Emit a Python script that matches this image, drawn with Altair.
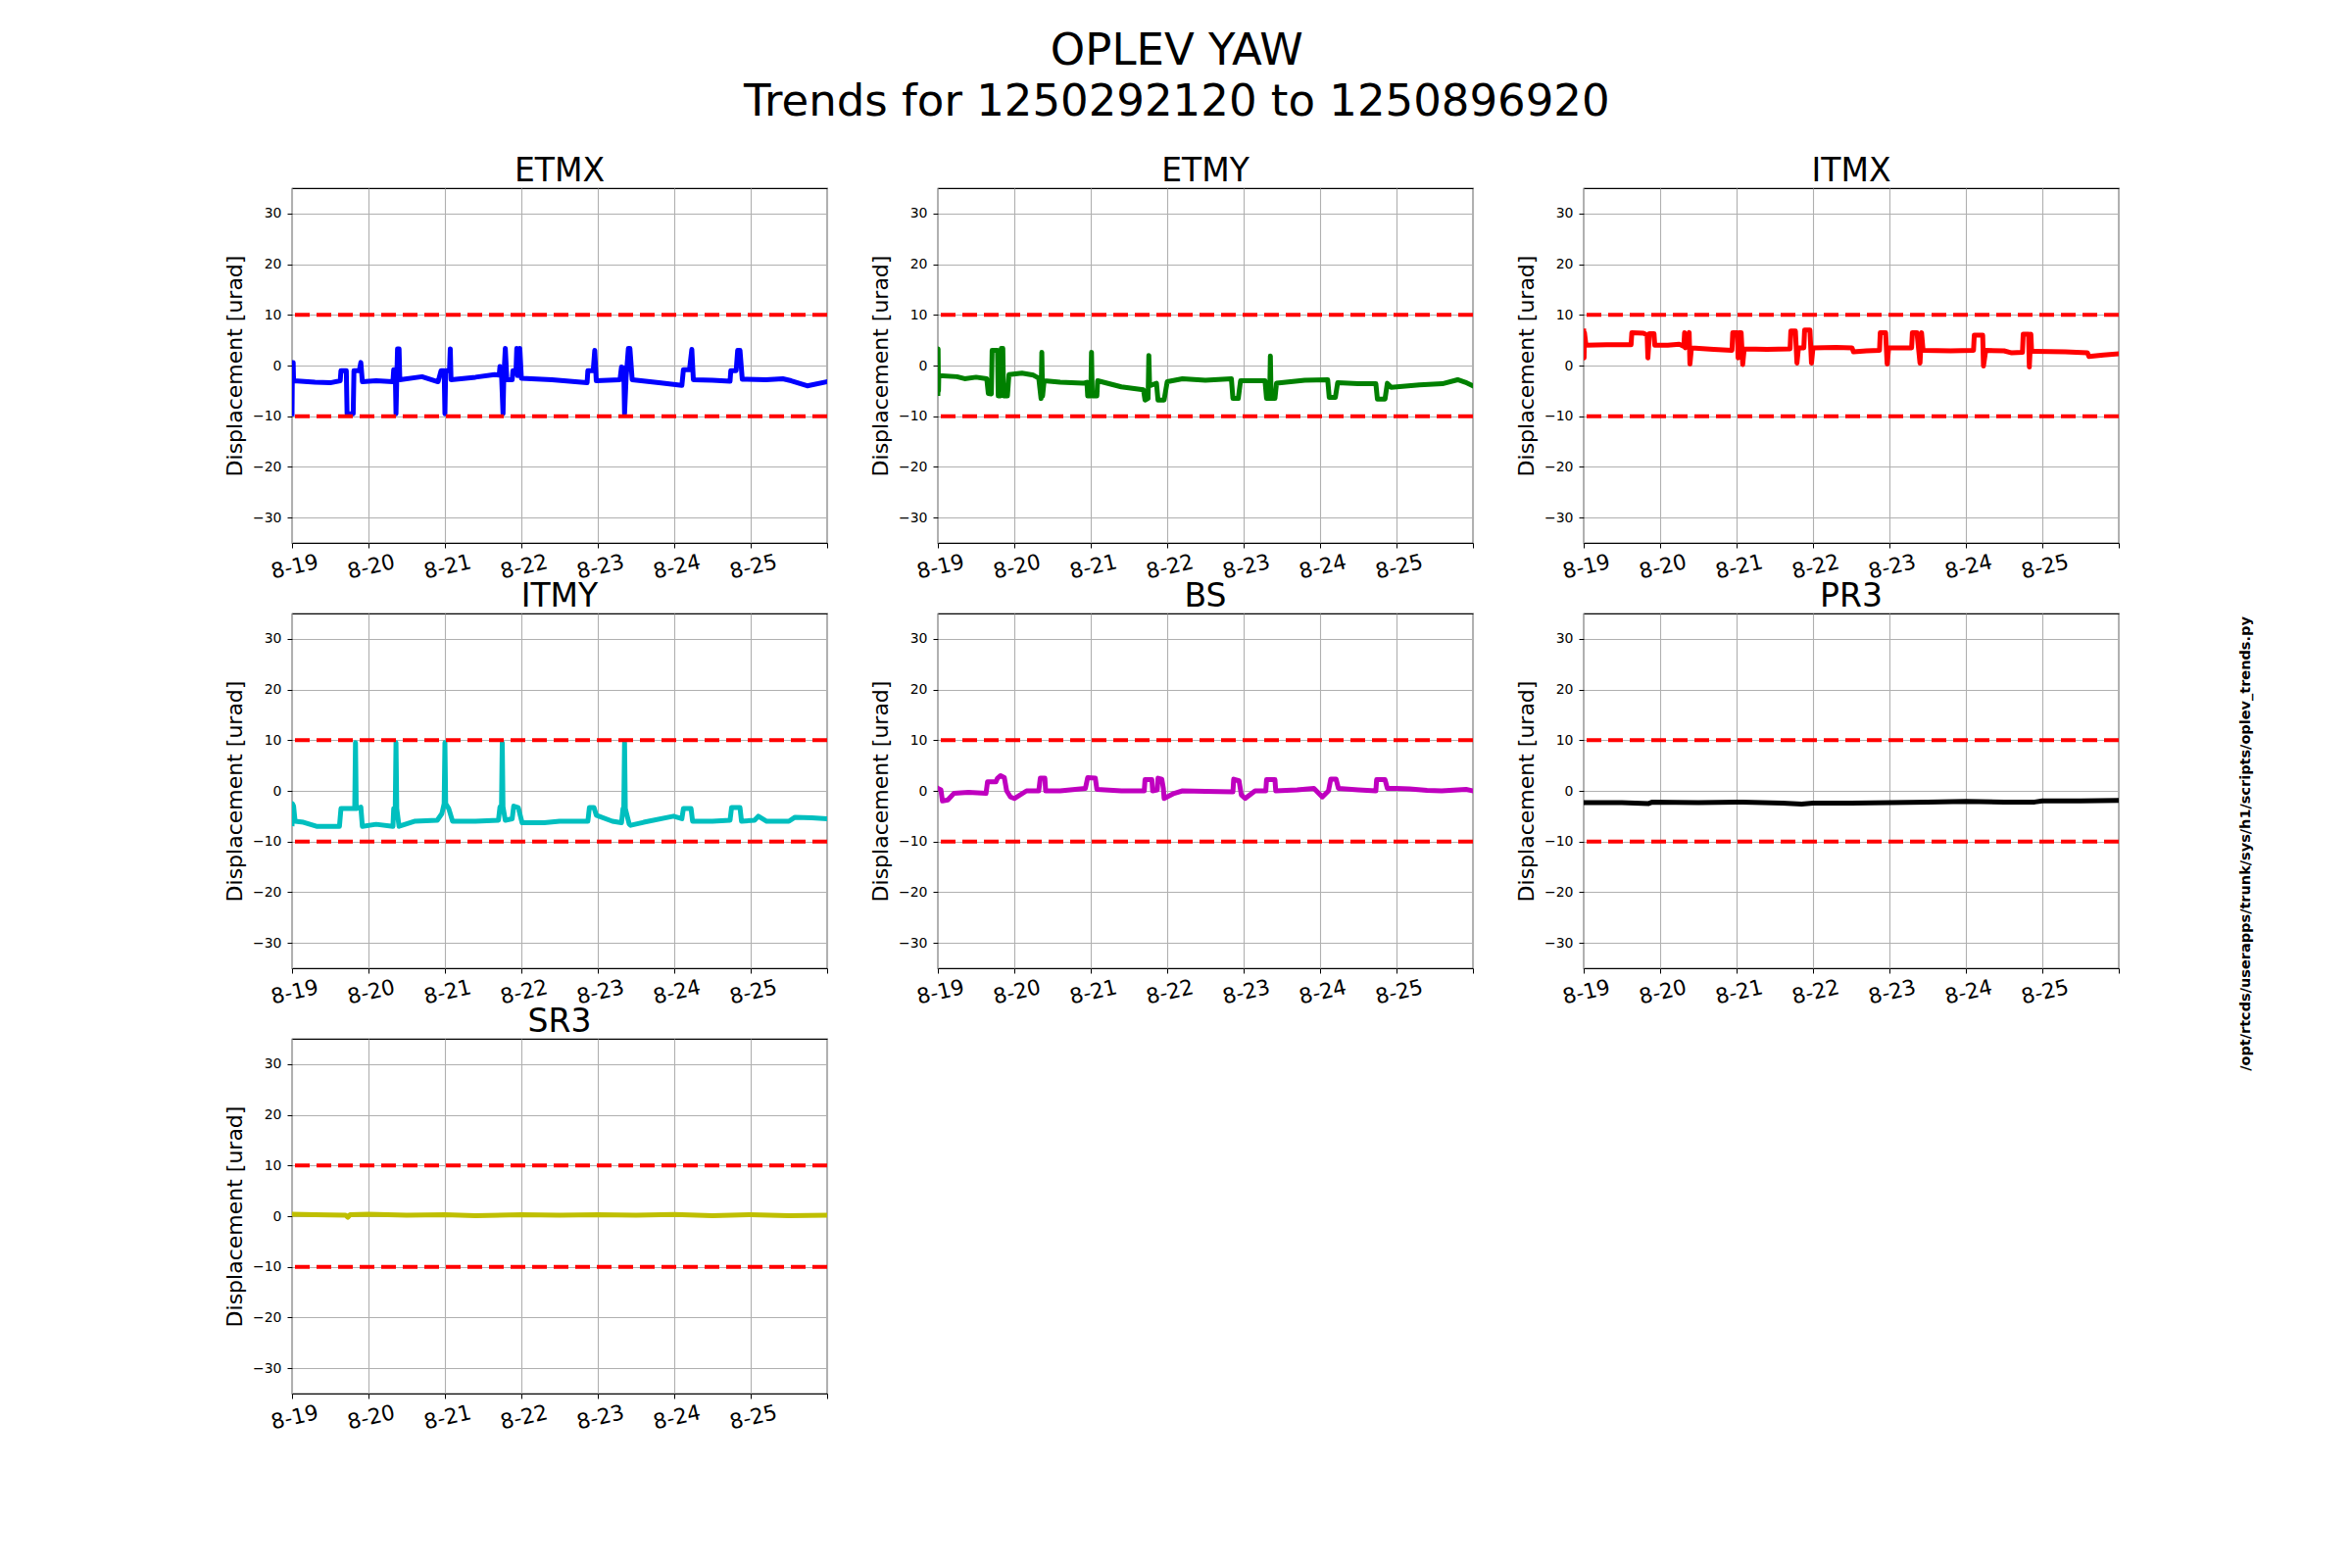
import json
import altair as alt
import pandas as pd

# ---------------- data ----------------
DAYS = [0, 1, 2, 3, 4, 5, 6, 7]
DAY_LABELS = ["8-19", "8-20", "8-21", "8-22", "8-23", "8-24", "8-25", ""]
Y_TICKS = [-30, -20, -10, 0, 10, 20, 30]
LIMITS = [10, -10]

TITLE_LINES = ["OPLEV YAW", "Trends for 1250292120 to 1250896920"]
FOOTNOTE = "/opt/rtcds/userapps/trunk/sys/h1/scripts/oplev_trends.py"
Y_TITLE = "Displacement [urad]"

ETMX = [(0.000, -9.5), (0.005, 0.6), (0.015, 0.6), (0.020, -3.0), (0.30, -3.3), (0.50, -3.4),
        (0.63, -3.0), (0.64, -1.0), (0.71, -1.0), (0.72, -9.5), (0.80, -9.5), (0.81, -1.0),
        (0.88, -1.0), (0.90, 0.6), (0.92, -3.2), (1.10, -3.0), (1.32, -3.2), (1.33, -0.8),
        (1.35, -0.8), (1.36, -9.5), (1.37, -2.8), (1.38, 3.3), (1.40, 3.3), (1.41, -2.8),
        (1.70, -2.2), (1.91, -3.2), (1.95, -1.0), (1.99, -1.0), (2.00, -9.5), (2.01, -1.0),
        (2.06, -1.0), (2.07, 3.3), (2.08, -2.8), (2.40, -2.3), (2.65, -1.8), (2.71, -1.9),
        (2.72, -0.2), (2.74, -1.5), (2.76, -9.5), (2.77, -2.5), (2.79, 3.4), (2.81, -2.8),
        (2.88, -2.8), (2.89, -1.0), (2.93, -1.0), (2.94, 3.4), (2.95, -2.0), (2.98, 3.4),
        (3.00, -2.5), (3.40, -2.8), (3.86, -3.4), (3.87, -1.0), (3.94, -1.0), (3.96, 3.0),
        (3.98, -3.0), (4.29, -2.8), (4.31, -0.3), (4.34, -0.5), (4.35, -9.5), (4.37, -2.5),
        (4.40, 3.4), (4.42, 3.4), (4.45, -2.8), (4.80, -3.4), (5.10, -3.9), (5.12, -0.8),
        (5.20, -0.8), (5.23, 3.2), (5.25, -2.8), (5.50, -2.9), (5.73, -3.1), (5.74, -1.0),
        (5.81, -1.0), (5.83, 3.0), (5.86, 3.0), (5.89, -2.7), (6.20, -2.8), (6.42, -2.6),
        (6.53, -3.0), (6.74, -4.0), (7.00, -3.2)]

ETMY = [(0.000, -5.5), (0.003, 3.3), (0.008, -5.0), (0.012, -2.0), (0.25, -2.2), (0.35, -2.6),
        (0.50, -2.3), (0.64, -2.6), (0.66, -5.5), (0.70, -5.6), (0.71, 3.0), (0.78, 3.0),
        (0.79, -6.0), (0.82, -6.0), (0.83, 3.4), (0.85, 3.4), (0.86, -6.0), (0.91, -6.0),
        (0.93, -1.8), (1.10, -1.5), (1.25, -1.9), (1.32, -2.5), (1.35, -6.5), (1.36, 2.6),
        (1.37, -6.0), (1.39, -3.0), (1.60, -3.3), (1.90, -3.5), (1.95, -3.3), (1.96, -6.0),
        (2.00, -6.0), (2.01, 2.6), (2.02, -6.0), (2.08, -6.0), (2.09, -3.0), (2.40, -4.2),
        (2.69, -4.8), (2.71, -6.8), (2.75, -6.5), (2.76, 2.0), (2.77, -4.0), (2.86, -3.5),
        (2.88, -6.8), (2.96, -6.8), (3.00, -3.2), (3.20, -2.6), (3.50, -2.9), (3.84, -2.6),
        (3.86, -6.5), (3.93, -6.5), (3.96, -3.0), (4.28, -3.0), (4.30, -6.5), (4.34, -6.5),
        (4.35, 1.9), (4.36, -6.5), (4.41, -6.5), (4.43, -3.5), (4.80, -2.9), (5.10, -2.8),
        (5.12, -6.3), (5.20, -6.3), (5.23, -3.4), (5.50, -3.6), (5.73, -3.6), (5.75, -6.6),
        (5.85, -6.6), (5.88, -3.5), (5.93, -4.3), (6.30, -3.8), (6.60, -3.6), (6.80, -2.8),
        (6.90, -3.3), (7.00, -4.0)]

ITMX = [(0.000, 6.8), (0.005, 1.5), (0.010, 6.5), (0.03, 4.0), (0.30, 4.1), (0.62, 4.1),
        (0.63, 6.5), (0.78, 6.4), (0.83, 6.0), (0.84, 1.5), (0.86, 6.3), (0.92, 6.3),
        (0.93, 4.0), (1.10, 4.0), (1.25, 4.2), (1.31, 3.8), (1.32, 6.5), (1.33, 3.5),
        (1.38, 6.5), (1.39, 0.3), (1.41, 3.5), (1.70, 3.2), (1.94, 3.0), (1.95, 6.5),
        (2.01, 6.5), (2.02, 1.5), (2.03, 6.5), (2.06, 6.5), (2.08, 0.2), (2.10, 3.3),
        (2.40, 3.2), (2.70, 3.3), (2.71, 6.8), (2.77, 6.8), (2.79, 0.5), (2.81, 3.5),
        (2.88, 3.5), (2.89, 7.0), (2.96, 7.0), (2.98, 0.5), (3.00, 3.5), (3.30, 3.6),
        (3.51, 3.5), (3.53, 2.7), (3.70, 2.9), (3.87, 3.0), (3.88, 6.5), (3.95, 6.5),
        (3.97, 0.3), (3.99, 3.5), (4.29, 3.5), (4.30, 6.5), (4.36, 6.5), (4.40, 0.5),
        (4.42, 6.5), (4.44, 3.0), (4.80, 2.9), (5.10, 3.0), (5.11, 6.0), (5.22, 6.0),
        (5.23, -0.1), (5.26, 3.0), (5.50, 2.9), (5.60, 2.5), (5.74, 2.6), (5.75, 6.2),
        (5.82, 6.2), (5.83, -0.3), (5.85, 6.2), (5.86, 2.8), (5.90, 2.8), (6.30, 2.7),
        (6.59, 2.5), (6.61, 1.8), (6.80, 2.1), (7.00, 2.3)]

ITMY = [(0.000, -6.5), (0.005, -2.5), (0.02, -3.0), (0.04, -6.0), (0.15, -6.2), (0.32, -7.0),
        (0.62, -7.0), (0.64, -3.5), (0.82, -3.5), (0.83, 9.5), (0.84, -3.5), (0.90, -3.2),
        (0.92, -7.0), (1.10, -6.6), (1.32, -7.0), (1.33, -3.5), (1.35, -3.5), (1.36, 9.5),
        (1.37, -3.5), (1.40, -7.0), (1.60, -6.0), (1.90, -5.8), (1.96, -4.5), (1.99, -2.5),
        (2.00, 9.5), (2.01, -2.5), (2.05, -3.5), (2.10, -6.0), (2.40, -6.0), (2.70, -5.8),
        (2.72, -3.2), (2.74, -3.2), (2.75, 9.5), (2.76, -3.2), (2.79, -5.8), (2.88, -5.5),
        (2.90, -3.0), (2.96, -3.3), (3.01, -6.3), (3.30, -6.3), (3.50, -6.0), (3.87, -6.0),
        (3.89, -3.3), (3.95, -3.3), (3.98, -4.8), (4.19, -6.0), (4.31, -6.3), (4.33, -3.5),
        (4.34, -3.5), (4.35, 9.5), (4.36, -3.5), (4.41, -6.5), (4.43, -6.8), (4.60, -6.2),
        (4.99, -5.0), (5.10, -5.5), (5.12, -3.5), (5.22, -3.5), (5.24, -6.0), (5.50, -6.0),
        (5.73, -5.8), (5.75, -3.3), (5.86, -3.3), (5.88, -6.0), (6.05, -5.8), (6.10, -5.0),
        (6.21, -6.0), (6.50, -6.0), (6.58, -5.2), (6.80, -5.3), (7.00, -5.5)]

BS = [(0.00, 0.5), (0.04, 0.2), (0.06, -2.0), (0.13, -1.8), (0.21, -0.5), (0.40, -0.3),
      (0.63, -0.5), (0.65, 1.8), (0.76, 1.8), (0.78, 2.5), (0.82, 3.0), (0.87, 2.6),
      (0.90, 0.0), (0.95, -1.2), (1.00, -1.5), (1.16, 0.0), (1.32, 0.0), (1.34, 2.5),
      (1.40, 2.5), (1.41, 0.0), (1.60, 0.0), (1.93, 0.5), (1.96, 2.6), (2.06, 2.5),
      (2.08, 0.3), (2.40, 0.0), (2.70, 0.0), (2.71, 2.2), (2.80, 2.2), (2.81, 0.0),
      (2.87, 0.2), (2.88, 2.5), (2.93, 2.3), (2.95, 0.5), (2.96, -1.5), (3.09, -0.5),
      (3.20, 0.0), (3.50, -0.1), (3.86, -0.2), (3.87, 2.3), (3.94, 2.0), (3.97, -0.8),
      (4.02, -1.5), (4.15, 0.0), (4.29, 0.0), (4.30, 2.2), (4.41, 2.2), (4.42, 0.0),
      (4.70, 0.2), (4.92, 0.5), (5.03, -1.2), (5.11, 0.0), (5.14, 2.3), (5.21, 2.3),
      (5.24, 0.5), (5.50, 0.2), (5.73, 0.0), (5.74, 2.2), (5.85, 2.2), (5.88, 0.5),
      (6.00, 0.5), (6.17, 0.4), (6.40, 0.1), (6.59, 0.0), (6.91, 0.3), (7.00, 0.0)]

PR3 = [(0.0, -2.3), (0.5, -2.3), (0.85, -2.5), (0.9, -2.2), (1.5, -2.3), (2.0, -2.2),
       (2.6, -2.4), (2.85, -2.6), (3.0, -2.4), (3.5, -2.4), (4.0, -2.3), (4.5, -2.2),
       (5.0, -2.1), (5.5, -2.2), (5.9, -2.2), (6.0, -2.0), (6.5, -2.0), (7.0, -1.9)]

SR3 = [(0.0, 0.4), (0.3, 0.3), (0.7, 0.2), (0.73, -0.2), (0.76, 0.3), (1.0, 0.4),
       (1.5, 0.2), (2.0, 0.3), (2.4, 0.1), (3.0, 0.3), (3.5, 0.2), (4.0, 0.3),
       (4.5, 0.2), (5.0, 0.35), (5.5, 0.1), (6.0, 0.3), (6.5, 0.1), (7.0, 0.2)]

OPTICS = ["ETMX", "ETMY", "ITMX", "ITMY", "BS", "PR3", "SR3"]
SERIES = [ETMX, ETMY, ITMX, ITMY, BS, PR3, SR3]
COLORS = ["#0000ff", "#008000", "#ff0000", "#00bfbf", "#bf00bf", "#000000", "#bfbf00"]

# ---------------- chart ----------------
FONT = "DejaVu Sans"
PW, PH = 546, 362

x_label_expr = json.dumps(DAY_LABELS) + "[datum.value]"


def panel(name, pts, color, footnote=False):
    df = pd.DataFrame({"t": [p[0] for p in pts], "v": [p[1] for p in pts],
                       "i": list(range(len(pts)))})
    x = alt.X("t:Q", title=None,
              scale=alt.Scale(domain=[0, 7], nice=False, zero=False),
              axis=alt.Axis(values=DAYS, labelExpr=x_label_expr, labelFontSize=21.5,
                            labelAngle=347, labelAlign="center", labelBaseline="top",
                            labelPadding=9, tickSize=5, grid=True, labelFlush=False,
                            labelOverlap=False))
    y = alt.Y("v:Q", title=Y_TITLE,
              scale=alt.Scale(domain=[-35, 35], nice=False, zero=False),
              axis=alt.Axis(values=Y_TICKS, labelFontSize=14, tickSize=5, labelPadding=6,
                            titleFontSize=22, titlePadding=6, grid=True,
                            labelExpr="replace(datum.label, '-', '\u2212')"))
    line = alt.Chart(df).mark_line(color=color, strokeWidth=5, clip=True,
                                   strokeJoin="round", strokeCap="square").encode(
        x=x, y=y, order="i:Q")
    rules = alt.Chart(pd.DataFrame({"v": LIMITS})).mark_rule(
        color="#ff0000", strokeWidth=4, strokeDash=[15, 7]).encode(
        y=alt.Y("v:Q", title=Y_TITLE))
    layers = [line, rules]
    if footnote:
        layers.append(alt.Chart(pd.DataFrame({"s": [FOOTNOTE]})).mark_text(
            angle=270, align="center", baseline="middle", fontSize=14.5,
            fontWeight="bold", font=FONT, color="black").encode(
            text="s:N", x=alt.value(676), y=alt.value(235)))
    return alt.layer(*layers).properties(
        width=PW, height=PH,
        title=alt.TitleParams(name, fontSize=33, font=FONT, fontWeight="normal",
                              color="black", offset=-33, baseline="bottom"))


panels = [panel(n, s, c, footnote=(n == "PR3")) for n, s, c in zip(OPTICS, SERIES, COLORS)]
VSP = -4
col1 = alt.vconcat(panels[0], panels[3], panels[6], spacing=VSP)
col2 = alt.vconcat(panels[1], panels[4], spacing=VSP)
col3 = alt.vconcat(panels[2], panels[5], spacing=VSP)

chart = alt.hconcat(col1, col2, col3, spacing=36).properties(
    title=alt.TitleParams(TITLE_LINES, fontSize=45, lineHeight=52, font=FONT,
                          fontWeight="normal", color="black", anchor="start",
                          align="center", dx=973, baseline="top", offset=31),
    padding={"left": 219, "top": 22, "right": 5, "bottom": 5},
).configure(font=FONT).configure_view(
    stroke="black", strokeWidth=1.2
).configure_axis(
    gridColor="#b0b0b0", gridWidth=1.1, tickColor="black", labelColor="black",
    titleColor="black", domain=False, titleFontWeight="normal", labelFont=FONT,
    titleFont=FONT
)

chart.save("out.html", embed_options={"renderer": "svg", "actions": False})
